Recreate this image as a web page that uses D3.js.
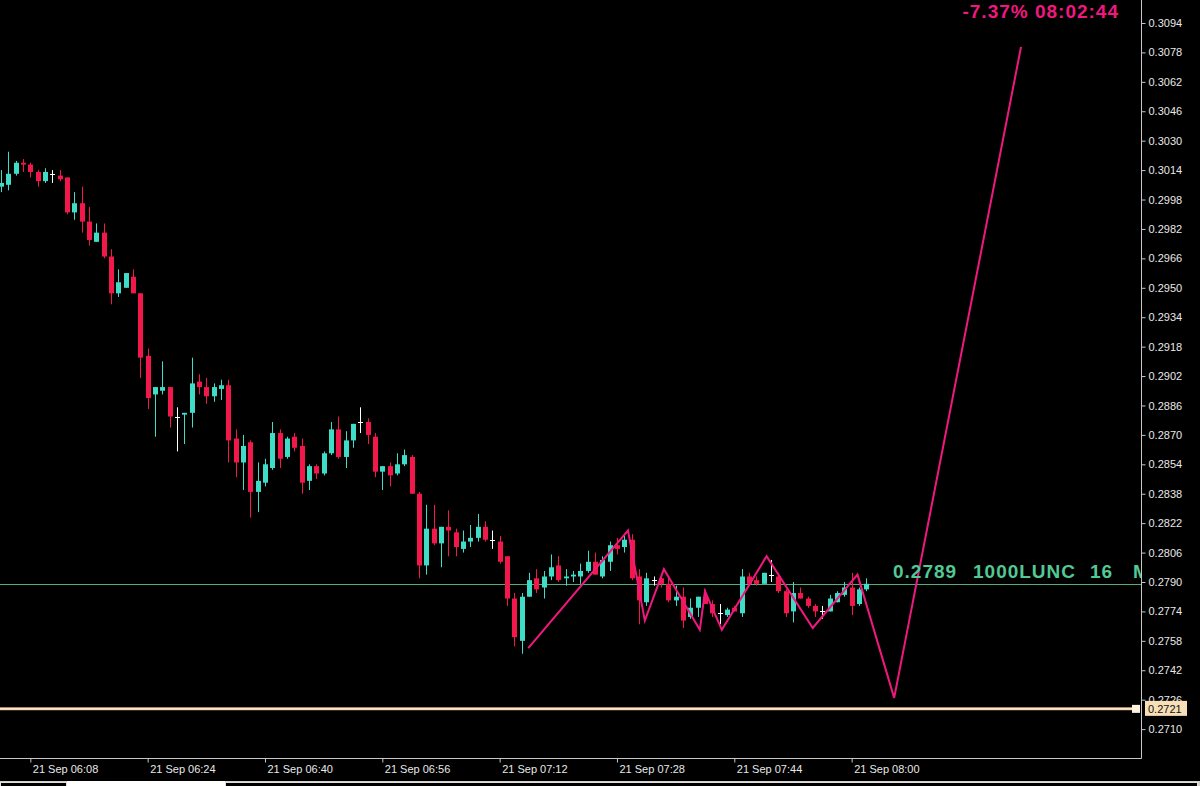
<!DOCTYPE html>
<html><head><meta charset="utf-8">
<script src="https://cdn.jsdelivr.net/npm/d3@7"></script>
<style>html,body{margin:0;padding:0;background:#000;overflow:hidden}svg{display:block}</style>
</head><body><svg id="c" width="1200" height="786"></svg>
<script>
// ---- data (1-minute bars, 21 Sep 06:04 .. 08:02) ----
const firstBar = "21 Sep 06:04";
const opens  = [0.3005,0.3006,0.3012,0.3018,0.3017,0.3013,0.3008,0.3012,0.3011,0.3010,
0.2991,0.2996,0.2986,0.2975,0.2980,0.2967,0.2947,0.2950,0.2956,0.2947,
0.2913,0.2892,0.2894,0.2896,0.2880,0.2881,0.2882,0.2899,0.2896,0.2891,
0.2895,0.2897,0.2868,0.2855,0.2866,0.2839,0.2844,0.2852,0.2871,0.2858,
0.2869,0.2864,0.2845,0.2853,0.2849,0.2860,0.2873,0.2858,0.2867,0.2877,
0.2877,0.2869,0.2850,0.2853,0.2849,0.2854,0.2858,0.2838,0.2799,0.2819,
0.2811,0.2820,0.2817,0.2808,0.2812,0.2814,0.2820,0.2813,0.2812,0.2804,
0.2781,0.2758,0.2782,0.2792,0.2787,0.2793,0.2799,0.2792,0.2793,0.2793,
0.2796,0.2801,0.2793,0.2801,0.2810,0.2809,0.2813,0.2793,0.2779,0.2791,
0.2792,0.2789,0.2780,0.2782,0.2771,0.2776,0.2782,0.2778,0.2773,0.2772,
0.2776,0.2773,0.2793,0.2791,0.2789,0.2794,0.2793,0.2785,0.2774,0.2784,
0.2781,0.2777,0.2774,0.2774,0.2779,0.2783,0.2787,0.2778,0.2786];
const highs  = [0.3014,0.3024,0.3019,0.3020,0.3018,0.3014,0.3015,0.3014,0.3014,0.3010,
0.3002,0.3005,0.2994,0.2985,0.2985,0.2971,0.2960,0.2958,0.2960,0.2947,
0.2917,0.2896,0.2910,0.2896,0.2885,0.2882,0.2912,0.2903,0.2901,0.2898,
0.2900,0.2900,0.2873,0.2870,0.2867,0.2855,0.2857,0.2877,0.2873,0.2869,
0.2871,0.2868,0.2854,0.2854,0.2861,0.2877,0.2880,0.2872,0.2876,0.2885,
0.2879,0.2871,0.2853,0.2855,0.2860,0.2862,0.2859,0.2839,0.2832,0.2832,
0.2820,0.2829,0.2819,0.2818,0.2821,0.2827,0.2823,0.2818,0.2815,0.2804,
0.2784,0.2784,0.2795,0.2797,0.2796,0.2805,0.2804,0.2797,0.2796,0.2800,
0.2807,0.2806,0.2804,0.2812,0.2814,0.2815,0.2816,0.2797,0.2795,0.2793,
0.2793,0.2793,0.2788,0.2787,0.2781,0.2782,0.2786,0.2780,0.2778,0.2776,
0.2777,0.2797,0.2795,0.2793,0.2795,0.2802,0.2795,0.2786,0.2790,0.2787,
0.2782,0.2778,0.2777,0.2783,0.2785,0.2790,0.2795,0.2787,0.2792];
const lows   = [0.3002,0.3003,0.3011,0.3013,0.3010,0.3005,0.3007,0.3007,0.3008,0.2990,
0.2987,0.2980,0.2973,0.2975,0.2966,0.2941,0.2945,0.2950,0.2947,0.2901,
0.2884,0.2869,0.2892,0.2874,0.2861,0.2865,0.2874,0.2892,0.2887,0.2888,
0.2889,0.2855,0.2847,0.2840,0.2825,0.2828,0.2842,0.2851,0.2852,0.2857,
0.2861,0.2838,0.2840,0.2846,0.2848,0.2859,0.2857,0.2852,0.2863,0.2871,
0.2865,0.2847,0.2840,0.2842,0.2848,0.2853,0.2838,0.2792,0.2794,0.2810,
0.2798,0.2804,0.2804,0.2806,0.2809,0.2812,0.2812,0.2808,0.2800,0.2777,
0.2755,0.2751,0.2782,0.2784,0.2781,0.2791,0.2790,0.2788,0.2790,0.2789,
0.2795,0.2794,0.2792,0.2796,0.2805,0.2806,0.2791,0.2767,0.2777,0.2788,
0.2787,0.2779,0.2777,0.2765,0.2770,0.2771,0.2778,0.2771,0.2767,0.2771,
0.2774,0.2771,0.2788,0.2788,0.2789,0.2790,0.2784,0.2771,0.2768,0.2781,
0.2776,0.2771,0.2770,0.2774,0.2779,0.2782,0.2772,0.2777,0.2785];
const closes = [0.3007,0.3012,0.3018,0.3017,0.3013,0.3008,0.3013,0.3012,0.3009,0.2991,
0.2996,0.2986,0.2976,0.2980,0.2967,0.2947,0.2953,0.2958,0.2947,0.2912,
0.2890,0.2896,0.2896,0.2880,0.2880,0.2882,0.2898,0.2896,0.2891,0.2896,
0.2897,0.2867,0.2855,0.2864,0.2839,0.2845,0.2854,0.2871,0.2857,0.2868,
0.2863,0.2844,0.2853,0.2849,0.2860,0.2873,0.2858,0.2867,0.2876,0.2877,
0.2870,0.2850,0.2853,0.2848,0.2854,0.2859,0.2838,0.2799,0.2819,0.2811,
0.2820,0.2818,0.2809,0.2812,0.2814,0.2820,0.2813,0.2813,0.2801,0.2781,
0.2760,0.2782,0.2791,0.2786,0.2793,0.2798,0.2791,0.2793,0.2794,0.2796,
0.2801,0.2794,0.2802,0.2810,0.2808,0.2813,0.2792,0.2780,0.2792,0.2791,
0.2789,0.2780,0.2782,0.2769,0.2776,0.2782,0.2778,0.2773,0.2773,0.2775,
0.2774,0.2793,0.2789,0.2789,0.2795,0.2794,0.2785,0.2773,0.2784,0.2781,
0.2777,0.2774,0.2774,0.2781,0.2784,0.2787,0.2777,0.2786,0.2789];

const priceTicks = [0.2710,0.2726,0.2742,0.2758,0.2774,0.2790,0.2806,0.2822,0.2838,0.2854,
0.2870,0.2886,0.2902,0.2918,0.2934,0.2950,0.2966,0.2982,0.2998,0.3014,0.3030,0.3046,0.3062,0.3078,0.3094];
const timeTickBars   = [4,20,36,52,68,84,100,116];
const timeTickLabels = ["21 Sep 06:08","21 Sep 06:24","21 Sep 06:40","21 Sep 06:56",
                        "21 Sep 07:12","21 Sep 07:28","21 Sep 07:44","21 Sep 08:00"];

// zigzag / projection line (bar position, price)
const zigBars   = [71.9,85.5,87.8,90.4,95.3,96.0,98.3,104.4,110.7,116.8,121.8,139.1];
const zigPrices = [0.2754,0.2818,0.2769,0.2797,0.2764,0.2785,0.2764,0.2804,0.2765,0.2794,0.2727,0.3081];

const bidPrice = 0.2789;
const bidLabelParts = ["0.2789","1000LUNC","16","M"];
const levelPrice = 0.2721;
const infoText = "-7.37% 08:02:44";

// ---- drawing ----
const W = 1200, H = 786, axisX = 1141, axisY = 758;
const svg = d3.select("#c");
svg.append("rect").attr("width",W).attr("height",H).attr("fill","#000");

const x = d3.scaleLinear().domain([0,118]).range([1, 866.3]);
const y = d3.scaleLinear().domain([0.2710,0.3094]).range([729.1, 23]);

const BULL = "#3fdcc8", BEAR = "#f2184c", DOJI = "#ffffff", PINK = "#f0187f";

svg.append("defs").append("clipPath").attr("id","plot")
  .append("rect").attr("x",0).attr("y",0).attr("width",axisX).attr("height",axisY);
const plot = svg.append("g").attr("clip-path","url(#plot)");

// bid line
plot.append("line").attr("x1",0).attr("x2",axisX)
  .attr("y1",Math.round(y(bidPrice))+0.5).attr("y2",Math.round(y(bidPrice))+0.5)
  .attr("stroke","#4fae7a").attr("stroke-width",1);

// candles
const bars = d3.range(opens.length).map(i => ({i, o:opens[i], h:highs[i], l:lows[i], c:closes[i]}));
const colorOf = d => d.c > d.o ? BULL : (d.c < d.o ? BEAR : DOJI);
const cg = plot.append("g");
cg.selectAll("line.w").data(bars).join("line").attr("class","w")
  .attr("x1",d=>Math.round(x(d.i))+0.5).attr("x2",d=>Math.round(x(d.i))+0.5)
  .attr("y1",d=>y(d.h)).attr("y2",d=>y(d.l))
  .attr("stroke",colorOf).attr("stroke-width",1);
const bw = 5;
cg.selectAll("rect.b").data(bars).join("rect").attr("class","b")
  .attr("x",d=>Math.round(x(d.i))-2)
  .attr("width",bw)
  .attr("y",d=> d.o===d.c ? Math.round(y(d.o)) : y(Math.max(d.o,d.c)))
  .attr("height",d=> d.o===d.c ? 1 : Math.max(1, y(Math.min(d.o,d.c)) - y(Math.max(d.o,d.c))))
  .attr("fill",colorOf);

// zigzag
const zz = zigBars.map((b,k)=>[x(b), y(zigPrices[k])]);
plot.append("path").attr("d", d3.line()(zz))
  .attr("fill","none").attr("stroke",PINK).attr("stroke-width",2).attr("stroke-linejoin","miter");

// horizontal level line
const ly = y(levelPrice);
svg.append("line").attr("x1",0).attr("x2",1136).attr("y1",ly).attr("y2",ly)
  .attr("stroke","#d8b48c").attr("stroke-width",3);
svg.append("line").attr("x1",0).attr("x2",1136).attr("y1",ly).attr("y2",ly)
  .attr("stroke","#fde6c8").attr("stroke-width",1.6);
svg.append("rect").attr("x",1132).attr("y",ly-4).attr("width",8).attr("height",8)
  .attr("fill","#fff3e0");

// bid label text
const bidXs = [893, 973, 1090, 1133];
const bt = plot.append("text").attr("y",577.5)
  .attr("font-family","Liberation Sans, Arial, sans-serif").attr("font-weight","bold")
  .attr("font-size",19).attr("letter-spacing",1).attr("fill","#52c995");
bidLabelParts.forEach((t,k)=>bt.append("tspan").attr("x",bidXs[k]).text(t));

// info text
svg.append("text").attr("x",1119).attr("y",18).attr("text-anchor","end")
  .attr("font-family","Liberation Sans, Arial, sans-serif").attr("font-weight","bold")
  .attr("font-size",19).attr("letter-spacing",1).attr("fill",PINK).text(infoText);

// axes
const axColor = "#c8c8c8";
const yAxis = d3.axisRight(y).tickValues(priceTicks).tickSize(4).tickPadding(3)
  .tickFormat(d3.format(".4f"));
const gy = svg.append("g").attr("transform",`translate(${axisX+0.5},0)`).call(yAxis);
gy.select(".domain").remove();
gy.selectAll(".tick line").attr("stroke",axColor);
gy.selectAll(".tick text").attr("fill","#e8e8e8")
  .attr("font-family","Liberation Sans, Arial, sans-serif").attr("font-size",11);

const xAxis = d3.axisBottom(x).tickValues(timeTickBars).tickSize(4).tickPadding(3)
  .tickFormat((d,k)=>timeTickLabels[k]);
const gx = svg.append("g").attr("transform",`translate(0,${axisY+0.5})`).call(xAxis);
gx.select(".domain").remove();
gx.selectAll(".tick line").attr("stroke",axColor);
gx.selectAll(".tick text").attr("fill","#e8e8e8").attr("text-anchor","start").attr("dx",2)
  .attr("font-family","Liberation Sans, Arial, sans-serif").attr("font-size",11);

svg.append("line").attr("x1",axisX+0.5).attr("x2",axisX+0.5).attr("y1",0).attr("y2",axisY+0.5)
  .attr("stroke",axColor);
svg.append("line").attr("x1",0).attr("x2",axisX+0.5).attr("y1",axisY+0.5).attr("y2",axisY+0.5)
  .attr("stroke",axColor);

// level price label on axis
svg.append("rect").attr("x",1145).attr("y",ly-8).attr("width",42).attr("height",15)
  .attr("fill","#f8dfb8");
svg.append("text").attr("x",1148).attr("y",ly+4).attr("fill","#111")
  .attr("font-family","Liberation Sans, Arial, sans-serif").attr("font-size",11)
  .text(d3.format(".4f")(levelPrice));

// bottom tab strip
svg.append("rect").attr("x",0).attr("y",781).attr("width",W).attr("height",5).attr("fill","#d4d0c8");
svg.append("rect").attr("x",0.5).attr("y",782.5).attr("width",66).attr("height",6).attr("fill","#000").attr("stroke","#e0e0e0");
svg.append("rect").attr("x",67).attr("y",781).attr("width",158).attr("height",5).attr("fill","#ffffff");
svg.append("rect").attr("x",225.5).attr("y",782.5).attr("width",972).attr("height",6).attr("fill","#000").attr("stroke","#e0e0e0");
</script></body></html>
